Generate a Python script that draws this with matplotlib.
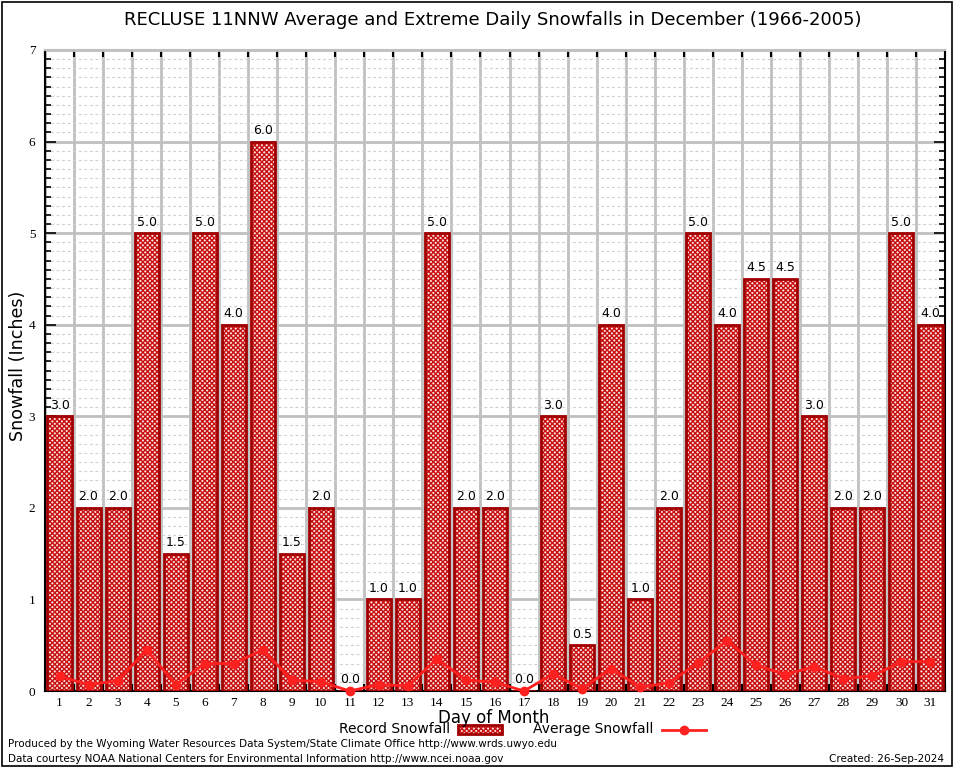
import matplotlib
matplotlib.use("Agg")
import matplotlib.pyplot as plt
from matplotlib.patches import Rectangle
from matplotlib.ticker import MultipleLocator, FixedLocator

days = list(range(1, 32))
record = [3.0, 2.0, 2.0, 5.0, 1.5, 5.0, 4.0, 6.0, 1.5, 2.0, 0.0, 1.0, 1.0, 5.0, 2.0, 2.0,
          0.0, 3.0, 0.5, 4.0, 1.0, 2.0, 5.0, 4.0, 4.5, 4.5, 3.0, 2.0, 2.0, 5.0, 4.0]
average = [0.16, 0.07, 0.11, 0.45, 0.07, 0.30, 0.30, 0.45, 0.12, 0.10, 0.00, 0.07, 0.055,
           0.35, 0.12, 0.095, 0.00, 0.185, 0.025, 0.245, 0.04, 0.09, 0.31, 0.55, 0.28,
           0.18, 0.265, 0.135, 0.165, 0.32, 0.32]

title = "RECLUSE 11NNW Average and Extreme Daily Snowfalls in December (1966-2005)"

plt.rcParams['hatch.linewidth'] = 1.0
fig = plt.figure(figsize=(9.54, 7.68), dpi=100)
ax = fig.add_axes([45/954, 1 - 691/768, 900/954, 641/768])

HATCH = 'xxxxxxx'
ax.bar(days, record, width=0.83, facecolor='#f8e0e0', edgecolor='#c81010',
       hatch=HATCH, linewidth=0, zorder=3)
ax.bar(days, record, width=0.83, facecolor='none', edgecolor='#a00000',
       linewidth=2, zorder=4)
for d, v in zip(days, record):
    ax.text(d, v + 0.05, f"{v:.1f}", ha='center', va='bottom', fontsize=9, zorder=6)

ax.plot(days, average, color='#ff2020', lw=2, marker='o', ms=6, zorder=5, clip_on=False)

ax.set_xlim(0.5, 31.5)
ax.set_ylim(0, 7)
ax.xaxis.set_major_locator(FixedLocator(days))
ax.xaxis.set_minor_locator(FixedLocator([d + 0.5 for d in range(0, 32)]))
ax.set_xticklabels([str(d) for d in days])
ax.tick_params(axis='x', which='major', length=0, pad=4, labelsize=9)
ax.tick_params(axis='x', which='minor', direction='in', length=5, top=True, bottom=True,
               width=1.5)
ax.yaxis.set_major_locator(MultipleLocator(1))
ax.yaxis.set_minor_locator(MultipleLocator(0.1))
ax.tick_params(axis='y', which='major', direction='in', length=8, left=True, right=True,
               width=1.2, labelsize=9, pad=7)
ax.tick_params(axis='y', which='minor', direction='in', length=4, left=True, right=True,
               width=1.2)
for lab in ax.get_xticklabels() + ax.get_yticklabels():
    lab.set_family('Liberation Serif')
    lab.set_fontsize(9.5)

ax.grid(True, axis='x', which='minor', color='#c0c0c0', lw=2, zorder=0)
ax.grid(True, axis='y', which='major', color='#c0c0c0', lw=2, zorder=0)
ax.grid(True, axis='y', which='minor', color='#cfcfcf', lw=0.8, ls=(0, (2.5, 2.5)), zorder=0)
ax.set_axisbelow(True)
for s in ['left', 'bottom', 'right']:
    ax.spines[s].set_linewidth(1.5)
ax.spines['top'].set_color('#c0c0c0')
ax.spines['top'].set_linewidth(1.5)

fig.text(493/954, 1 - 20/768, title, ha='center', va='center', fontsize=13)
fig.text(18/954, 1 - 366/768, "Snowfall (Inches)", rotation=90, ha='center', va='center',
         fontsize=12.6)
fig.text(494/954, 1 - 718/768, "Day of Month", ha='center', va='center', fontsize=12)

# legend
fig.text(450/954, 1 - 729/768, "Record Snowfall", ha='right', va='center', fontsize=10)
fig.patches.append(Rectangle((458/954, 1 - 734/768), 44/954, 9/768, transform=fig.transFigure,
                             facecolor='#f8e0e0', edgecolor='#c81010', hatch=HATCH, lw=0))
fig.patches.append(Rectangle((458/954, 1 - 734/768), 44/954, 9/768, transform=fig.transFigure,
                             facecolor='none', edgecolor='#a00000', lw=2))
fig.text(653/954, 1 - 729/768, "Average Snowfall", ha='right', va='center', fontsize=10)
fig.lines.append(plt.Line2D([662/954, 706/954], [1 - 730/768, 1 - 730/768],
                            transform=fig.transFigure, color='#ff2020', lw=2))
fig.lines.append(plt.Line2D([684/954], [1 - 730/768], transform=fig.transFigure,
                            color='#ff2020', marker='o', ms=6))

fig.text(8/954, 1 - 744/768,
         "Produced by the Wyoming Water Resources Data System/State Climate Office http://www.wrds.uwyo.edu",
         ha='left', va='center', fontsize=7.5)
fig.text(8/954, 1 - 759/768,
         "Data courtesy NOAA National Centers for Environmental Information http://www.ncei.noaa.gov",
         ha='left', va='center', fontsize=7.5)
fig.text(944/954, 1 - 759/768, "Created: 26-Sep-2024", ha='right', va='center', fontsize=7.5)

fig.patches.append(Rectangle((2/954, 2/768), 950/954, 764/768, transform=fig.transFigure,
                             facecolor='none', edgecolor='black', lw=1.2))

fig.savefig("out.png", dpi=100)
